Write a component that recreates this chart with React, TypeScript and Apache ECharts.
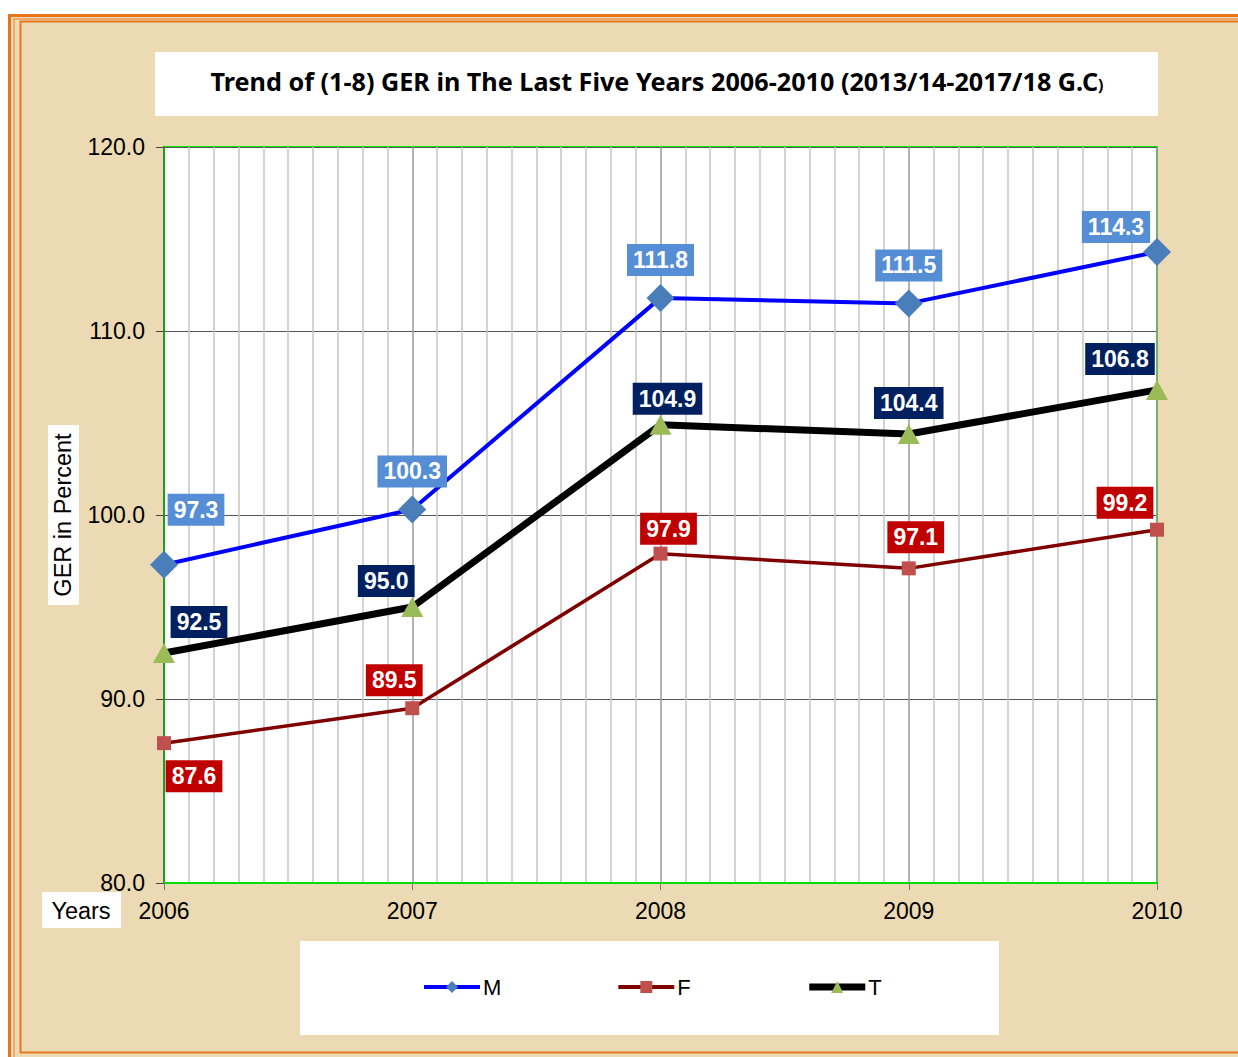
import React, { useEffect, useRef } from "react";
import * as echarts from "echarts";

const years = [2006, 2007, 2008, 2009, 2010];
const maleValues = [97.3, 100.3, 111.8, 111.5, 114.3];
const femaleValues = [87.6, 89.5, 97.9, 97.1, 99.2];
const totalValues = [92.5, 95.0, 104.9, 104.4, 106.8];
const seriesNames = ["M", "F", "T"];
const yMin = 80;
const yMax = 120;
const yStep = 10;

const titleMain = "Trend of (1-8) GER in The Last Five Years 2006-2010 (2013/14-2017/18 G.C";
const titleTail = ")";
const yAxisTitle = "GER in Percent";
const xAxisTitle = "Years";

// label placement offsets (style only)
const mOffsets = [[32, -55], [0, -38], [0, -38], [0, -38], [-41, -25]];
const fOffsets = [[30, 33], [-18, -28], [8, -25], [7, -31], [-32, -27]];
const tOffsets = [[35, -31], [-26, -26], [7, -26], [0, -31], [-37, -31]];

function buildData(values: number[], offsets: number[][], bg: string) {
  return values.map((v, i) => ({
    value: [years[i], v],
    label: {
      show: true,
      position: "inside",
      offset: offsets[i],
      formatter: (p: any) => Number(p.value[1]).toFixed(1),
      color: "#ffffff",
      fontFamily: "Liberation Sans, Arial, sans-serif",
      fontWeight: "bold",
      fontSize: 23,
      backgroundColor: bg,
      padding: [5, 6, 4, 6],
    },
  }));
}

export default function App() {
  const ref = useRef<HTMLDivElement>(null);
  useEffect(() => {
    if (!ref.current) return;
    const chart = echarts.init(ref.current, undefined, { renderer: "svg" });
    const font = "Liberation Sans, Arial, sans-serif";
    const titleFont = "Noto Sans, Open Sans, sans-serif";
    chart.setOption({
      animation: false,
      backgroundColor: "#ffffff",
      textStyle: { fontFamily: font },
      graphic: [
        { type: "rect", z: -5, shape: { x: 9, y: 15, width: 1300, height: 1100 }, style: { fill: "#ECDAB4" } },
        { type: "rect", z: -4, shape: { x: 9.5, y: 15.5, width: 1300, height: 1100 }, style: { fill: "none", stroke: "#E8751A", lineWidth: 3 } },
        { type: "rect", z: -4, shape: { x: 14, y: 19, width: 1300, height: 1100 }, style: { fill: "none", stroke: "#EE9A55", lineWidth: 1.5 } },
        { type: "rect", z: -4, shape: { x: 20.5, y: 21.5, width: 1300, height: 1031 }, style: { fill: "none", stroke: "#E8781E", lineWidth: 2 } },
        { type: "rect", z: -3, shape: { x: 155, y: 52, width: 1003, height: 64 }, style: { fill: "#ffffff" } },
        {
          type: "text", z: 10, x: 657, y: 81,
          style: {
            text: "{a|" + titleMain + "}{b|" + titleTail + "}",
            align: "center", verticalAlign: "middle",
            rich: {
              a: { fontFamily: titleFont, fontWeight: "bold", fontSize: 25.2, fill: "#000" },
              b: { fontFamily: titleFont, fontWeight: "bold", fontSize: 16, fill: "#000", padding: [7, 0, 0, 0] },
            },
          },
        },
        { type: "rect", z: -3, shape: { x: 48, y: 425, width: 31, height: 180 }, style: { fill: "#ffffff" } },
        {
          type: "text", z: 10, x: 63, y: 515, rotation: Math.PI / 2,
          style: { text: yAxisTitle, fontFamily: font, fontSize: 23.5, fill: "#000", align: "center", verticalAlign: "middle" },
        },
        { type: "rect", z: -3, shape: { x: 42, y: 892, width: 79, height: 36 }, style: { fill: "#ffffff" } },
        {
          type: "text", z: 10, x: 81, y: 911,
          style: { text: xAxisTitle, fontFamily: font, fontSize: 23.5, fill: "#000", align: "center", verticalAlign: "middle" },
        },
        { type: "rect", z: -3, shape: { x: 300, y: 941, width: 699, height: 94 }, style: { fill: "#ffffff" } },
      ],
      grid: {
        left: 164, right: 81, top: 147, bottom: 174,
        show: true, backgroundColor: "#ffffff", borderColor: "#00EE00", borderWidth: 2,
      },
      legend: {
        data: [
          { name: seriesNames[0], lineStyle: { width: 4, color: "#0000FF" } },
          { name: seriesNames[1], lineStyle: { width: 4, color: "#800000" } },
          { name: seriesNames[2], lineStyle: { width: 7, color: "#000000" } },
        ],
        left: 422, top: 976, padding: 0,
        itemWidth: 56, itemHeight: 15, itemGap: 115,
        textStyle: { fontFamily: font, fontSize: 22, color: "#000", padding: [0, 0, 0, -2] },
      },
      xAxis: {
        type: "value", min: years[0], max: years[years.length - 1], interval: 1,
        axisLine: { show: true, lineStyle: { color: "#00DD00", width: 2 } },
        axisTick: { show: true, length: 7, lineStyle: { color: "#777" } },
        axisLabel: { fontFamily: font, fontSize: 23, color: "#000", margin: 16, formatter: (v: number) => String(Math.round(v)) },
        splitLine: { show: true, lineStyle: { color: "#9a9a9a", width: 1.5 } },
        minorTick: { show: false, splitNumber: 10 },
        minorSplitLine: { show: true, lineStyle: { color: "#c4c4c4", width: 1.5 } },
      },
      yAxis: {
        type: "value", min: yMin, max: yMax, interval: yStep,
        axisLine: { show: true, lineStyle: { color: "#1E9E1E", width: 2 } },
        axisTick: { show: true, length: 8, lineStyle: { color: "#444" } },
        axisLabel: { fontFamily: font, fontSize: 23, color: "#000", margin: 19, formatter: (v: number) => v.toFixed(1) },
        splitLine: { show: true, lineStyle: { color: "#555", width: 1 } },
      },
      series: [
        {
          name: "M", type: "line", clip: false, z: 3,
          symbol: "diamond", symbolSize: 28,
          lineStyle: { color: "#0000FF", width: 4 },
          itemStyle: { color: "#4A7EBB" },
          data: buildData(maleValues, mOffsets, "#558ED5"),
        },
        {
          name: "F", type: "line", clip: false, z: 3,
          symbol: "rect", symbolSize: 14,
          lineStyle: { color: "#800000", width: 3.5 },
          itemStyle: { color: "#C0504D" },
          data: buildData(femaleValues, fOffsets, "#C00000"),
        },
        {
          name: "T", type: "line", clip: false, z: 2,
          symbol: "triangle", symbolSize: [22, 20],
          lineStyle: { color: "#000000", width: 7 },
          itemStyle: { color: "#9BBB59" },
          data: buildData(totalValues, tOffsets, "#002060"),
        },
      ],
    });
    return () => chart.dispose();
  }, []);
  return (
    <div
      ref={ref}
      style={{ position: "fixed", left: 0, top: 0, width: 1238, height: 1057 }}
    />
  );
}
